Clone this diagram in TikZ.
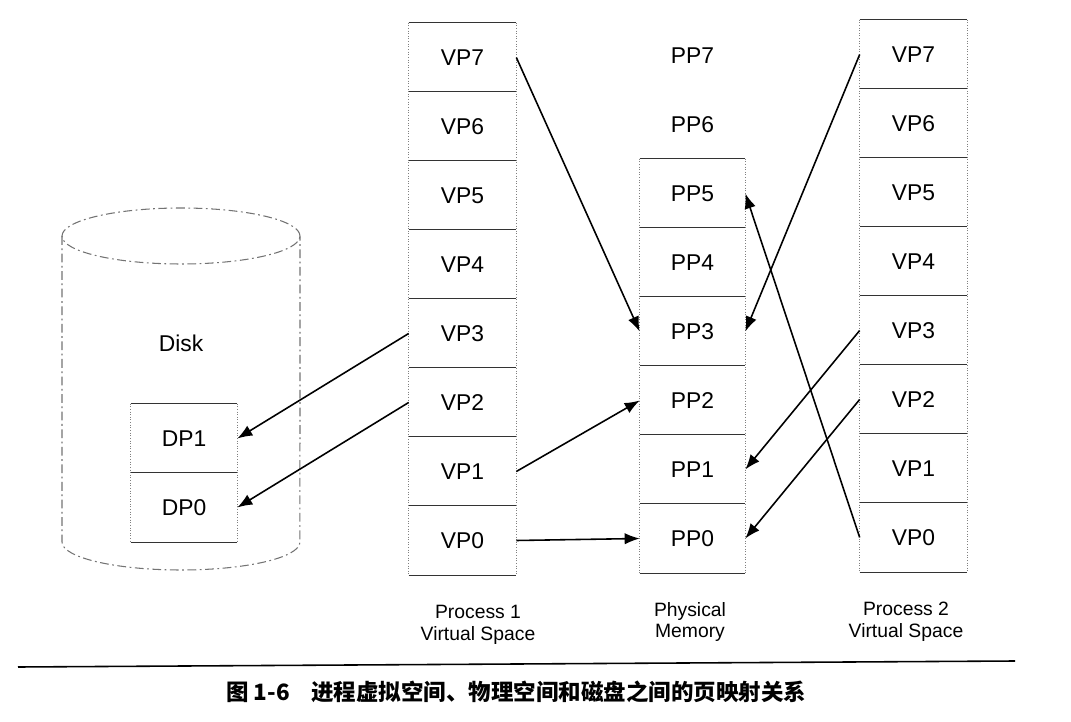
\documentclass[tikz,border=0pt]{standalone}
\usepackage{fontspec}
\setmainfont{Liberation Sans}
\newfontfamily\cjk{Noto Sans CJK SC}
\usetikzlibrary{arrows.meta}
\tikzset{>={Latex[length=3mm,width=2.3mm]}}

\begin{document}
\begin{tikzpicture}[x=0.02cm, y=-0.02cm,
    cell/.style={minimum width=2.14cm, minimum height=1.38cm, inner sep=0pt, font=\fontsize{13}{15}\selectfont},
    sepline/.style={line width=.7pt, black!80},
    side/.style={densely dotted, black!50, line width=.5pt},
    diskline/.style={dash pattern=on 5pt off 2pt on 1pt off 2pt, black!55, line width=.6pt},
    map/.style={->, line width=.9pt},
    colname/.style={align=center, font=\fontsize{11}{12.5}\selectfont}]
  \useasboundingbox (0,0) rectangle (1071,722);
  % disk
  \draw[diskline] (181,236) ellipse [x radius=2.38cm, y radius=0.56cm];
  \draw[diskline] (62,236) -- (62,542) arc[start angle=180, end angle=360, x radius=2.38cm, y radius=0.56cm] -- (300,236);
  \node[font=\fontsize{13}{15}\selectfont] (disk) at (181,343) {Disk};
  \node[cell, minimum width=2.12cm] (d1) at (184,438.5) {DP1};
  \node[cell, minimum width=2.12cm] (d0) at (184,507.5) {DP0};
  \draw[sepline] (d1.north west) -- (d1.north east) (d0.north west) -- (d0.north east) (d0.south west) -- (d0.south east);
  \draw[side] (d1.north west) -- (d0.south west) (d1.north east) -- (d0.south east);
  % pages
  \foreach \i in {0,...,7} {
    \node[cell] (a\i) at (462.5, {57.5+69*(7-\i)}) {VP\i};
    \node[cell, minimum width=2.1cm] (p\i) at (692.5, {55.5+69*(7-\i)}) {PP\i};
    \node[cell] (b\i) at (913.5, {54.5+69*(7-\i)}) {VP\i};
    \draw[sepline] (a\i.north west) -- (a\i.north east) (b\i.north west) -- (b\i.north east);
  }
  \foreach \i in {0,...,5}
    \draw[sepline] (p\i.north west) -- (p\i.north east);
  \draw[sepline] (a0.south west) -- (a0.south east) (p0.south west) -- (p0.south east) (b0.south west) -- (b0.south east);
  \draw[side] (a7.north west) -- (a0.south west) (a7.north east) -- (a0.south east);
  \draw[side] (p5.north west) -- (p0.south west) (p5.north east) -- (p0.south east);
  \draw[side] (b7.north west) -- (b0.south west) (b7.north east) -- (b0.south east);
  % mappings
  \draw[map] (a7.east) -- (p3.west);
  \draw[map] (b7.west) -- (p3.east);
  \draw[map] (b0.west) -- (p5.east);
  \draw[map] (a3.west) -- (d1.east);
  \draw[map] (a2.west) -- (d0.east);
  \draw[map] (a1.east) -- (p2.west);
  \draw[map] (a0.east) -- (p0.west);
  \draw[map] (b3.west) -- (p1.east);
  \draw[map] (b2.west) -- (p0.east);
  % captions
  \node[colname] (n1) at (478,625) {Process 1\\Virtual Space};
  \node[colname] (n2) at (690,622) {Physical\\Memory};
  \node[colname] (n3) at (906,622) {Process 2\\Virtual Space};
  \draw[line width=.9pt] (18,667) -- (1015,661);
  \node[anchor=west, inner sep=0pt, font=\cjk\bfseries\fontsize{12.8}{14}\selectfont] (fig) at (226,692) {图 1-6};
  \node[anchor=west, inner sep=0pt, font=\cjk\bfseries\fontsize{12.8}{14}\selectfont] (title) at (311,692) {进程虚拟空间、物理空间和磁盘之间的页映射关系};
\end{tikzpicture}
\end{document}
